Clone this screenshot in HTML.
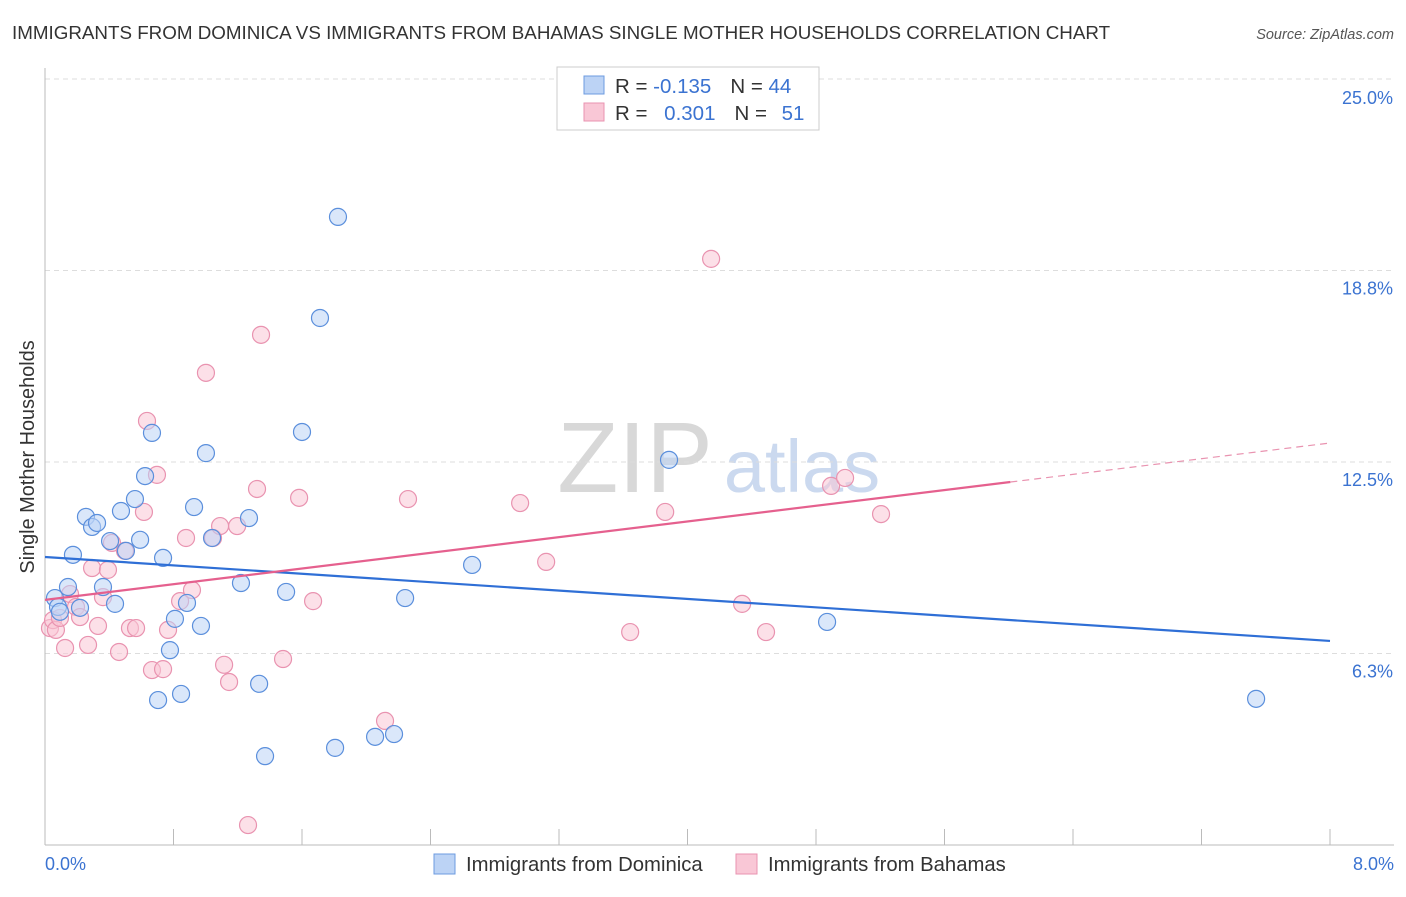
<!DOCTYPE html>
<html><head><meta charset="utf-8"><style>
body{margin:0;background:#fff;font-family:"Liberation Sans",sans-serif;}
svg text{font-family:"Liberation Sans",sans-serif;}
</style></head><body>
<svg id="chart" width="1406" height="892" xmlns="http://www.w3.org/2000/svg">
<text x="12" y="39" font-size="18.8" fill="#333">IMMIGRANTS FROM DOMINICA VS IMMIGRANTS FROM BAHAMAS SINGLE MOTHER HOUSEHOLDS CORRELATION CHART</text>
<text x="1394" y="39" font-size="14.5" fill="#555" font-style="italic" text-anchor="end">Source: ZipAtlas.com</text>
<text transform="translate(34,457) rotate(-90)" font-size="19.9" fill="#333" text-anchor="middle">Single Mother Households</text>
<g>
<text x="635" y="492" font-size="100" fill="#d8d8d8" font-family="Liberation Serif" text-anchor="middle">ZIP</text>
<text x="802" y="492" font-size="74" fill="#cbd9ef" text-anchor="middle">atlas</text>
</g>
<g id="grid"></g><g id="axes"></g><g id="marks"></g>
<g>
<rect x="557" y="67" width="262" height="63" fill="#fff" stroke="#ccc"/>
<rect x="584" y="76" width="20" height="18" fill="#bcd3f5" stroke="#6c9be0"/>
<rect x="584" y="103" width="20" height="18" fill="#f9c7d6" stroke="#e993b0"/>
<text x="615" y="93" font-size="20.5" fill="#333">R = <tspan fill="#3b73d1">-0.135</tspan><tspan dx="19">N = </tspan><tspan fill="#3b73d1">44</tspan></text>
<text x="615" y="120" font-size="20.5" fill="#333">R = <tspan fill="#3b73d1" dx="11">0.301</tspan><tspan dx="19">N = </tspan><tspan fill="#3b73d1" dx="9">51</tspan></text>
</g>
<g>
<rect x="434" y="854" width="21" height="20" fill="#bcd3f5" stroke="#6c9be0"/>
<text x="466" y="871" font-size="20.3" fill="#333">Immigrants from Dominica</text>
<rect x="736" y="854" width="21" height="20" fill="#f9c7d6" stroke="#e993b0"/>
<text x="768" y="871" font-size="20.3" fill="#333">Immigrants from Bahamas</text>
</g>
</svg>
<script>
const blueX=[0.062,0.081,0.093,0.143,0.174,0.218,0.255,0.293,0.324,0.361,0.405,0.436,0.473,0.504,0.560,0.592,0.623,0.666,0.735,0.778,0.809,0.704,0.847,0.884,0.928,0.971,1.002,1.040,1.220,1.270,1.333,1.370,1.501,1.600,1.712,1.824,1.806,2.055,2.173,2.242,2.659,3.885,4.869,7.540];
const blueY=[8.06,7.77,7.61,8.42,9.47,7.74,10.71,10.38,10.51,8.42,9.92,7.87,10.90,9.60,11.29,9.96,12.04,13.45,9.37,6.36,7.38,4.73,4.93,7.90,11.03,7.15,12.79,10.02,8.55,10.67,5.26,2.90,8.26,13.48,17.20,20.50,3.17,3.53,3.62,8.06,9.14,12.57,7.28,4.77];
const pinkX=[0.031,0.050,0.068,0.093,0.125,0.156,0.193,0.218,0.268,0.293,0.330,0.361,0.392,0.417,0.461,0.498,0.529,0.567,0.616,0.635,0.666,0.697,0.735,0.766,0.841,0.878,0.915,1.002,1.046,1.090,1.115,1.146,1.196,1.320,1.345,1.482,1.582,1.669,2.117,2.260,2.958,3.120,3.643,3.861,4.147,4.340,4.489,4.894,4.981,5.205,1.264];
const pinkY=[7.08,7.34,7.02,7.41,6.43,8.19,7.77,7.44,6.53,9.04,7.15,8.09,8.98,9.86,6.30,9.60,7.08,7.08,10.87,13.84,5.71,12.08,5.74,7.02,7.96,10.02,8.32,15.41,10.02,10.41,5.88,5.32,10.41,11.62,16.65,6.07,11.33,7.96,4.05,11.29,11.16,9.24,6.95,10.87,19.13,7.87,6.95,11.72,11.98,10.80,0.65];
const blueTrend=[9.40,-0.3425];
const pinkTrend=[8.00,0.64];
const yTicks=[25.0,18.8,12.5,6.3];
const yTickVals=[25,18.75,12.5,6.25];
const xTickVals=[0,0.8,1.6,2.4,3.2,4.0,4.8,5.6,6.4,7.2,8.0];
const xEndLabels=["0.0%","8.0%"];
const NS="http://www.w3.org/2000/svg";
const X0=45,X1=1330,YB=845,YT=79;
const sx=v=>X0+v*(X1-X0)/8;
const sy=v=>YB-v*(YB-YT)/25;
function mk(tag,attrs,parent){const e=document.createElementNS(NS,tag);for(const k in attrs)e.setAttribute(k,attrs[k]);parent.appendChild(e);return e;}
const grid=document.getElementById('grid'),axes=document.getElementById('axes'),marks=document.getElementById('marks');
yTickVals.forEach((v,i)=>{
 const l=mk('line',{x1:X0,x2:1394,y1:sy(v),y2:sy(v),stroke:'#ddd','stroke-dasharray':'5,4'},grid);
 
 
 const t=mk('text',{x:1393,y:sy(v)+(i==0?25:24),'font-size':18,fill:'#3b73d1','text-anchor':'end'},axes);
 t.textContent=yTicks[i].toFixed(1)+'%';
 
 
});
const ya=mk('line',{x1:X0,x2:X0,y1:68,y2:YB,stroke:'#bbb'},axes);


const xa=mk('line',{x1:X0,x2:1394,y1:YB,y2:YB,stroke:'#bbb'},axes);


xTickVals.forEach(v=>{
 const t=mk('line',{x1:sx(v),x2:sx(v),y1:829,y2:YB,stroke:'#bbb'},axes);
 
 
});
[[0,'start',45],[8,'end',1394]].forEach((d,i)=>{
 const t=mk('text',{x:d[2],y:870,'font-size':18,fill:'#3b73d1','text-anchor':d[1]},axes);
 t.textContent=xEndLabels[i];
 
 
});
function pts(xs,ys,fill,stroke,name){xs.forEach((x,i)=>{
 const c=mk('circle',{cx:sx(x),cy:sy(ys[i]),r:8.5,fill:fill,'fill-opacity':0.55,stroke:stroke,'stroke-width':1.2},marks);
 
 
});}
pts(pinkX,pinkY,'#f9c7d6','#e993b0','bahamas-point');
pts(blueX,blueY,'#bcd3f5','#5b8fdc','dominica-point');
const bl=mk('line',{x1:sx(0),y1:sy(blueTrend[0]),x2:sx(8),y2:sy(blueTrend[0]+8*blueTrend[1]),stroke:'#2f6fd6','stroke-width':2.2},marks);


const pl=mk('line',{x1:sx(0),y1:sy(pinkTrend[0]),x2:sx(6.01),y2:sy(pinkTrend[0]+6.01*pinkTrend[1]),stroke:'#e5608e','stroke-width':2.2},marks);


const pd=mk('line',{x1:sx(6.01),y1:sy(pinkTrend[0]+6.01*pinkTrend[1]),x2:sx(8),y2:sy(pinkTrend[0]+8*pinkTrend[1]),stroke:'#e993b0','stroke-width':1.2,'stroke-dasharray':'7,5'},marks);


</script>
</body></html>
